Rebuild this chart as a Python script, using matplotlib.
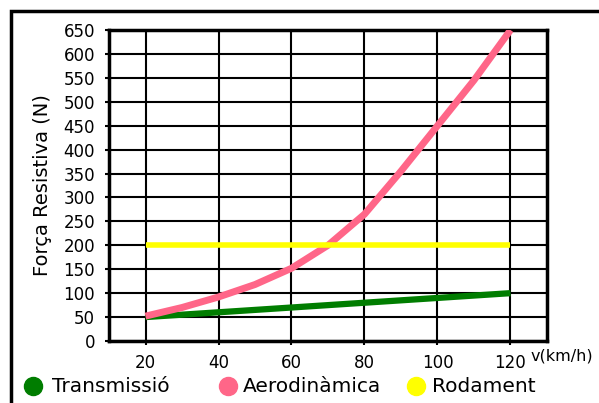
import matplotlib.pyplot as plt
from matplotlib.lines import Line2D
from matplotlib.patches import Rectangle

# data
v = [20, 30, 40, 50, 60, 70, 80, 90, 100, 110, 120]
transmissio = [50, 55, 60, 65, 70, 75, 80, 85, 90, 95, 100]
aerodinamica = [52, 70, 92, 118, 152, 200, 265, 355, 450, 545, 650]
rodament = [200, 200, 200, 200, 200, 200, 200, 200, 200, 200, 200]

labels = ["Transmissió", "Aerodinàmica", "Rodament"]
colors = ["#007d00", "#ff6688", "#ffff00"]

fig = plt.figure(figsize=(5.99, 4.03), dpi=100)
ax = fig.add_axes([109/599, 1-341/403, (547-109)/599, (341-30)/403])

ax.plot(v, transmissio, color=colors[0], lw=4.5, zorder=3, solid_capstyle="butt")
ax.plot(v, aerodinamica, color=colors[1], lw=5, zorder=4, solid_capstyle="butt")
ax.plot(v, rodament, color=colors[2], lw=4, zorder=5, solid_capstyle="butt")

ax.set_xlim(10, 130)
ax.set_ylim(0, 650)
ax.set_xticks(range(20, 121, 20))
ax.set_yticks(range(0, 651, 50))
ax.grid(True, color="black", lw=1.5, zorder=1)
ax.set_axisbelow(True)
for s in ax.spines.values():
    s.set_linewidth(2.5)
ax.tick_params(axis="both", labelsize=12, length=3, width=1.5)
ax.tick_params(axis="y", pad=7)
ax.tick_params(axis="x", pad=6)

ax.set_ylabel("Força Resistiva (N)", fontsize=14, labelpad=8)
fig.text(531/599, 1-356/403, "v(km/h)", fontsize=11.5, ha="left", va="center")

# legend drawn by hand under the plot
mark_x = [33, 228, 416]
text_x = [52, 243, 432]
for mx, tx, lab, c in zip(mark_x, text_x, labels, colors):
    fig.add_artist(Line2D([mx/599], [1-386/403], marker="o", ms=13, color=c,
                          transform=fig.transFigure))
    fig.text(tx/599, 1-386/403, lab, fontsize=14.5, ha="left", va="center")

# outer frame (cut off on the right and bottom)
fig.add_artist(Rectangle((11/599, -0.1), 1.2, 1-11/403+0.1, fill=False,
                         lw=2.5, edgecolor="black", transform=fig.transFigure))

fig.savefig("out.png", dpi=100)
